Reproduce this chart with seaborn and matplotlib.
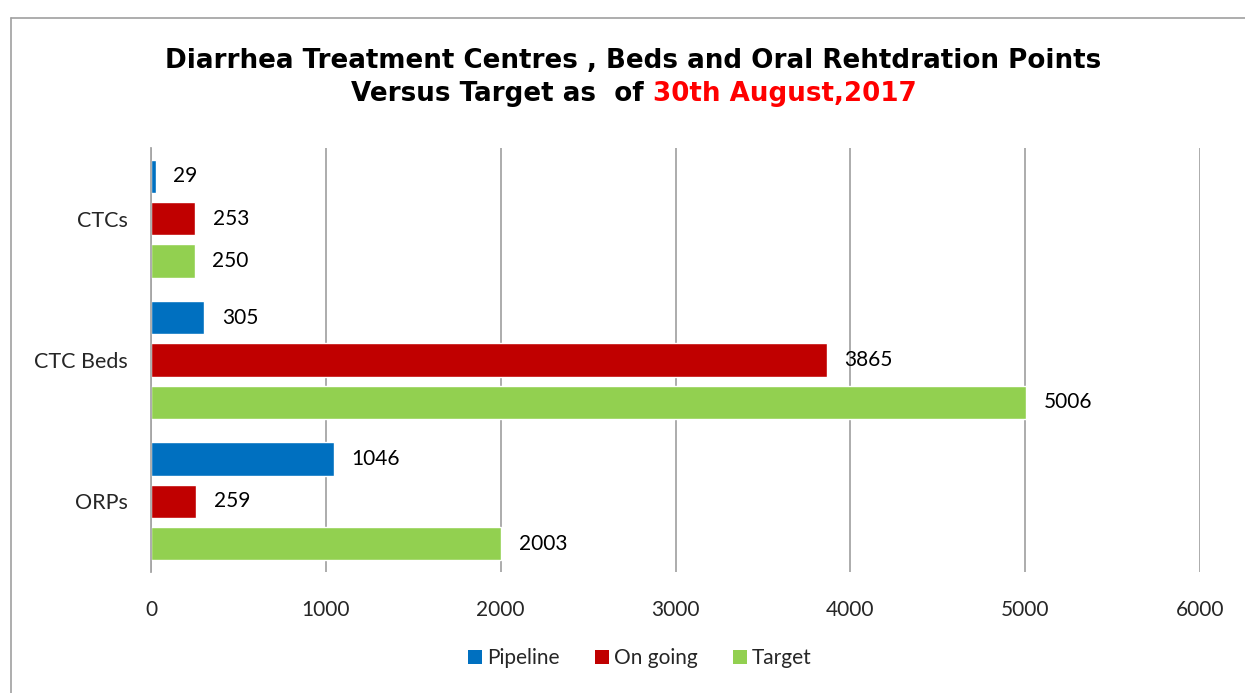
import matplotlib
matplotlib.use("Agg")
import matplotlib.pyplot as plt
import seaborn as sns
import pandas as pd
from matplotlib.lines import Line2D
from matplotlib.patches import Patch

categories = ["CTCs", "CTC Beds", "ORPs"]
series = ["Pipeline", "On going", "Target"]
pipeline = [29, 305, 1046]
ongoing = [253, 3865, 259]
target = [250, 5006, 2003]
colors = ["#0070C0", "#C00000", "#92D050"]
xticks = [0, 1000, 2000, 3000, 4000, 5000, 6000]

rows = []
for s, vals in zip(series, [pipeline, ongoing, target]):
    for c, v in zip(categories, vals):
        rows.append({"Category": c, "Series": s, "Value": v})
df = pd.DataFrame(rows)

sns.set_style("white")
plt.rcParams["font.family"] = ["Lato", "DejaVu Sans"]

fig = plt.figure(figsize=(12.45, 6.93), dpi=100)
W, H = 1245, 693
ax = fig.add_axes([151 / W, 1 - 572 / H, (1200 - 151) / W, (572 - 148) / H])

sns.barplot(data=df, y="Category", x="Value", hue="Series", order=categories,
            hue_order=series, palette=colors, orient="h", width=0.9, gap=0.21,
            ax=ax, legend=False, saturation=1, errorbar=None)

for cont in ax.containers:
    ax.bar_label(cont, padding=12.5, fontsize=15, color="black")

ax.set_xlim(0, 6000)
ax.set_ylim(2.5, -0.5)
ax.set_xticks(xticks)
ax.set_xticklabels([str(t) for t in xticks])
ax.xaxis.grid(True, color="#A6A6A6", linewidth=1.3)
ax.yaxis.grid(False)
ax.set_axisbelow(True)
ax.set_xlabel("")
ax.set_ylabel("")
for side in ["top", "right", "bottom"]:
    ax.spines[side].set_visible(False)
ax.spines["left"].set_color("#A6A6A6")
ax.spines["left"].set_linewidth(1.3)
ax.tick_params(axis="x", length=0, pad=20, labelsize=15)
ax.tick_params(axis="y", length=0, pad=17, labelsize=15.5)

# legend
handles = [Patch(facecolor=c, edgecolor="none") for c in colors]
fig.legend(handles, series, loc="center", bbox_to_anchor=(640 / W, 1 - 658 / H),
           ncol=3, frameon=False, fontsize=15, handlelength=0.65, handleheight=0.65,
           handletextpad=0.25, columnspacing=1.7)

# title
tfont = ["DejaVu Sans"]
tsize = 18.8
fig.text(633 / W, 1 - 61 / H, "Diarrhea Treatment Centres , Beds and Oral Rehtdration Points",
         ha="center", va="center", fontsize=tsize, fontweight="bold", color="black", family=tfont)
t1 = fig.text(0, 1 - 94 / H, "Versus Target as  of ", ha="left", va="center",
              fontsize=tsize, fontweight="bold", color="black", family=tfont)
t2 = fig.text(0, 1 - 94 / H, "30th August,2017", ha="left", va="center",
              fontsize=tsize, fontweight="bold", color="#FF0000", family=tfont)
fig.canvas.draw()
r = fig.canvas.get_renderer()
w1 = t1.get_window_extent(r).width
w2 = t2.get_window_extent(r).width
start = 634 - (w1 + w2) / 2
t1.set_x(start / W)
t2.set_x((start + w1) / W)

# border
fig.add_artist(Line2D([10.5 / W, 10.5 / W], [0, 1 - 18 / H], color="#A0A0A0", lw=1.2, transform=fig.transFigure))
fig.add_artist(Line2D([10.5 / W, 1], [1 - 18 / H, 1 - 18 / H], color="#A0A0A0", lw=1.2, transform=fig.transFigure))

fig.savefig("out.png", dpi=100)
